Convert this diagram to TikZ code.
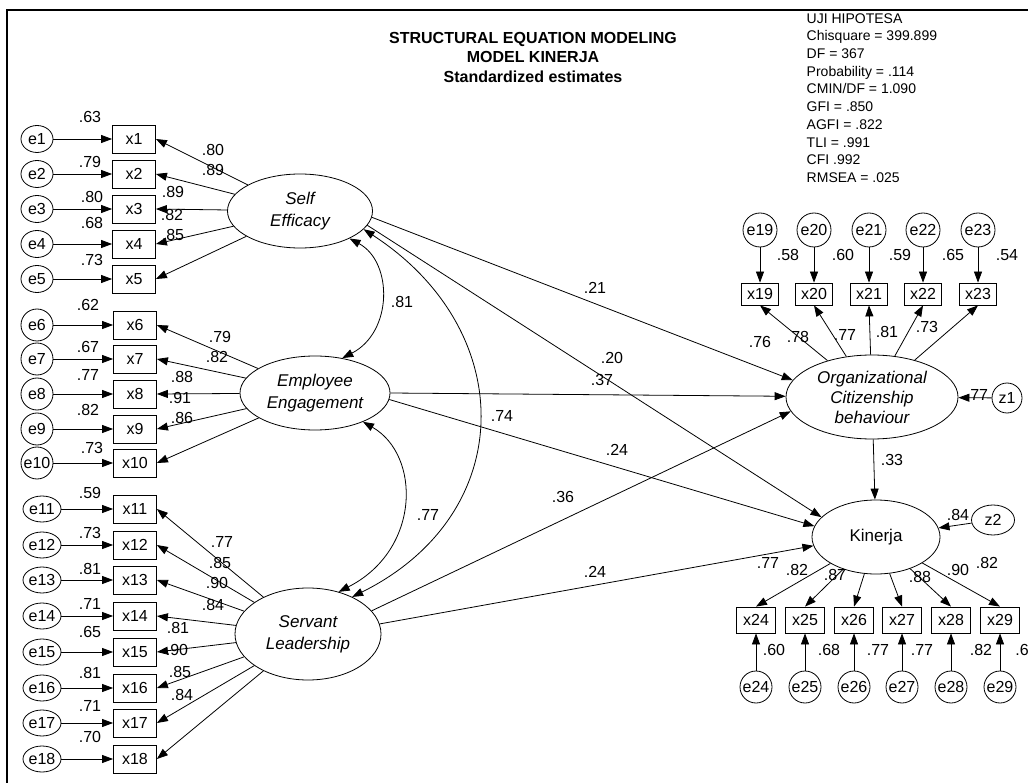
\documentclass[tikz,border=0pt]{standalone}
\usepackage{fontspec}
\setmainfont{Liberation Sans}
\usetikzlibrary{shapes.geometric,arrows.meta}

\begin{document}
\begin{tikzpicture}[x=1pt,y=-1pt,line width=0.8pt,
 every node/.style={font=\fontsize{16}{19}\selectfont},
 obs/.style={draw,rectangle,minimum width=43pt,minimum height=28pt,inner sep=0pt},
 obssm/.style={draw,rectangle,minimum width=37pt,minimum height=22pt,inner sep=0pt},
 obsmd/.style={draw,rectangle,minimum width=39pt,minimum height=26pt,inner sep=0pt},
 err/.style={draw,ellipse,inner sep=0pt,minimum width=32pt,minimum height=27pt},
 errw/.style={draw,ellipse,inner sep=0pt,minimum width=38pt,minimum height=26pt},
 errc/.style={draw,circle,inner sep=0pt,minimum size=#1},
 lat/.style={draw,ellipse,inner sep=0pt,align=center,font=\fontsize{17}{22}\selectfont\itshape},
 reg/.style={-{Triangle[length=11pt,width=8pt]}},
 cov/.style={{Triangle[length=11pt,width=8pt]}-{Triangle[length=11pt,width=8pt]}},
 coef/.style={inner sep=0pt}]
 \useasboundingbox (0,0) rectangle (1028,783);
 \draw[line width=2pt](7,783)--(7,10)--(1028,10);
 % title and fit
 \node[align=center,font=\bfseries\fontsize{16}{19.5}\selectfont] (title) at (533,57) {STRUCTURAL EQUATION MODELING\\MODEL KINERJA\\Standardized estimates};
 \node[anchor=west,align=left,font=\fontsize{14}{17.7}\selectfont] (fit) at (803,98) {UJI HIPOTESA\\Chisquare = 399.899\\DF = 367\\Probability = .114\\CMIN/DF = 1.090\\GFI = .850\\AGFI = .822\\TLI = .991\\CFI .992\\RMSEA = .025};
 % latent variables
 \node[lat,minimum width=145pt,minimum height=74pt] (SE) at (300,211) {Self\\Efficacy};
 \node[lat,minimum width=150pt,minimum height=74pt] (EE) at (315,393) {Employee\\Engagement};
 \node[lat,minimum width=146pt,minimum height=92pt] (SL) at (308,634) {Servant\\Leadership};
 \node[lat,minimum width=172pt,minimum height=84pt,font=\fontsize{17}{20}\selectfont\itshape] (OCB) at (872,397) {Organizational\\Citizenship\\behaviour};
 \node[lat,minimum width=128pt,minimum height=74pt,font=\fontsize{17}{19}\selectfont] (Kin) at (876,537) {Kinerja};
 \node[errc=30pt] (z1) at (1007,398) {z1};
 \node[draw,ellipse,inner sep=0pt,minimum width=43pt,minimum height=30pt] (z2) at (993,520) {z2};
 % self efficacy
 \node[err] (e1) at (37,139) {e1};
 \node[err] (e2) at (37,174) {e2};
 \node[err] (e3) at (37,209) {e3};
 \node[err] (e4) at (37,244) {e4};
 \node[err] (e5) at (37,279) {e5};
 \node[obs] (x1) at (134,139) {x1};
 \node[obs] (x2) at (134,174) {x2};
 \node[obs] (x3) at (134,209) {x3};
 \node[obs] (x4) at (134,244) {x4};
 \node[obs] (x5) at (134,279) {x5};
 % employee engagement
 \node[errc=32pt] (e6) at (37,325) {e6};
 \node[errc=32pt] (e7) at (37,359) {e7};
 \node[errc=32pt] (e8) at (37,394) {e8};
 \node[errc=32pt] (e9) at (37,429) {e9};
 \node[errc=32pt] (e10) at (37,463) {e10};
 \node[obs] (x6) at (135,325) {x6};
 \node[obs] (x7) at (135,359) {x7};
 \node[obs] (x8) at (135,394) {x8};
 \node[obs] (x9) at (135,429) {x9};
 \node[obs] (x10) at (135,463) {x10};
 % servant leadership
 \node[errw] (e11) at (42,509) {e11};
 \node[errw] (e12) at (42,545) {e12};
 \node[errw] (e13) at (42,580) {e13};
 \node[errw] (e14) at (42,616) {e14};
 \node[errw] (e15) at (42,652) {e15};
 \node[errw] (e16) at (42,688) {e16};
 \node[errw] (e17) at (42,723) {e17};
 \node[errw] (e18) at (42,759) {e18};
 \node[obs] (x11) at (135,509) {x11};
 \node[obs] (x12) at (135,545) {x12};
 \node[obs] (x13) at (135,580) {x13};
 \node[obs] (x14) at (135,616) {x14};
 \node[obs] (x15) at (135,652) {x15};
 \node[obs] (x16) at (135,688) {x16};
 \node[obs] (x17) at (135,723) {x17};
 \node[obs] (x18) at (135,759) {x18};
 % ocb
 \node[errc=34pt] (e19) at (760,230) {e19};
 \node[errc=34pt] (e20) at (814,230) {e20};
 \node[errc=34pt] (e21) at (869,230) {e21};
 \node[errc=34pt] (e22) at (923,230) {e22};
 \node[errc=34pt] (e23) at (978,230) {e23};
 \node[obssm] (x19) at (760,294) {x19};
 \node[obssm] (x20) at (814,294) {x20};
 \node[obssm] (x21) at (869,294) {x21};
 \node[obssm] (x22) at (923,294) {x22};
 \node[obssm] (x23) at (978,294) {x23};
 % kinerja
 \node[obsmd] (x24) at (756,620) {x24};
 \node[obsmd] (x25) at (805,620) {x25};
 \node[obsmd] (x26) at (854,620) {x26};
 \node[obsmd] (x27) at (902,620) {x27};
 \node[obsmd] (x28) at (951,620) {x28};
 \node[obsmd] (x29) at (1000,620) {x29};
 \node[errc=32pt] (e24) at (756,687) {e24};
 \node[errc=32pt] (e25) at (805,687) {e25};
 \node[errc=32pt] (e26) at (854,687) {e26};
 \node[errc=32pt] (e27) at (902,687) {e27};
 \node[errc=32pt] (e28) at (951,687) {e28};
 \node[errc=32pt] (e29) at (1000,687) {e29};
 % error paths
 \draw[reg] (e1) -- (x1);
 \draw[reg] (e2) -- (x2);
 \draw[reg] (e3) -- (x3);
 \draw[reg] (e4) -- (x4);
 \draw[reg] (e5) -- (x5);
 \draw[reg] (e6) -- (x6);
 \draw[reg] (e7) -- (x7);
 \draw[reg] (e8) -- (x8);
 \draw[reg] (e9) -- (x9);
 \draw[reg] (e10) -- (x10);
 \draw[reg] (e11) -- (x11);
 \draw[reg] (e12) -- (x12);
 \draw[reg] (e13) -- (x13);
 \draw[reg] (e14) -- (x14);
 \draw[reg] (e15) -- (x15);
 \draw[reg] (e16) -- (x16);
 \draw[reg] (e17) -- (x17);
 \draw[reg] (e18) -- (x18);
 \draw[reg] (e19) -- (x19);
 \draw[reg] (e20) -- (x20);
 \draw[reg] (e21) -- (x21);
 \draw[reg] (e22) -- (x22);
 \draw[reg] (e23) -- (x23);
 \draw[reg] (e24) -- (x24);
 \draw[reg] (e25) -- (x25);
 \draw[reg] (e26) -- (x26);
 \draw[reg] (e27) -- (x27);
 \draw[reg] (e28) -- (x28);
 \draw[reg] (e29) -- (x29);
 % loadings
 \draw[reg] (SE) -- (x1.east);
 \draw[reg] (SE) -- (x2.east);
 \draw[reg] (SE) -- (x3.east);
 \draw[reg] (SE) -- (x4.east);
 \draw[reg] (SE) -- (x5.east);
 \draw[reg] (EE) -- (x6.east);
 \draw[reg] (EE) -- (x7.east);
 \draw[reg] (EE) -- (x8.east);
 \draw[reg] (EE) -- (x9.east);
 \draw[reg] (EE) -- (x10.east);
 \draw[reg] (SL) -- (x11.east);
 \draw[reg] (SL) -- (x12.east);
 \draw[reg] (SL) -- (x13.east);
 \draw[reg] (SL) -- (x14.east);
 \draw[reg] (SL) -- (x15.east);
 \draw[reg] (SL) -- (x16.east);
 \draw[reg] (SL) -- (x17.east);
 \draw[reg] (SL) -- (x18.east);
 \draw[reg] (OCB) -- (x19.south);
 \draw[reg] (OCB) -- (x20.south);
 \draw[reg] (OCB) -- (x21.south);
 \draw[reg] (OCB) -- (x22.south);
 \draw[reg] (OCB) -- (x23.south);
 \draw[reg] (Kin) -- (x24.north);
 \draw[reg] (Kin) -- (x25.north);
 \draw[reg] (Kin) -- (x26.north);
 \draw[reg] (Kin) -- (x27.north);
 \draw[reg] (Kin) -- (x28.north);
 \draw[reg] (Kin) -- (x29.north);
 % structural paths
 \draw[reg] (SE.-5) -- (OCB.168);
 \draw[reg] (SE.-12) -- (Kin.160);
 \draw[reg] (EE.east) -- (OCB);
 \draw[reg] (EE.-5) -- (Kin.170);
 \draw[reg] (SL.20) -- (OCB.190);
 \draw[reg] (SL.8) -- (Kin.188);
 \draw[reg] (OCB) -- (Kin);
 \draw[reg] (z1) -- (OCB);
 \draw[reg] (z2) -- (Kin);
 \draw[cov] (SE.-29) .. controls (393,262) and (393,332) .. (EE.52);
 \draw[cov] (EE.-31) .. controls (421,455) and (421,550) .. (SL.54);
 \draw[cov] (SE.-16) .. controls (519,330) and (519,514) .. (SL.40);
 % squared multiple correlations
 \node[coef] (r1) at (90,117) {.63};
 \node[coef] (r2) at (90,162) {.79};
 \node[coef] (r3) at (92,197) {.80};
 \node[coef] (r4) at (92,223) {.68};
 \node[coef] (r5) at (92,260) {.73};
 \node[coef] (r6) at (88,305) {.62};
 \node[coef] (r7) at (88,347) {.67};
 \node[coef] (r8) at (88,375) {.77};
 \node[coef] (r9) at (88,410) {.82};
 \node[coef] (r10) at (92,448) {.73};
 \node[coef] (r11) at (90,493) {.59};
 \node[coef] (r12) at (90,533) {.73};
 \node[coef] (r13) at (90,569) {.81};
 \node[coef] (r14) at (90,604) {.71};
 \node[coef] (r15) at (90,632) {.65};
 \node[coef] (r16) at (90,673) {.81};
 \node[coef] (r17) at (90,706) {.71};
 \node[coef] (r18) at (90,737) {.70};
 \node[coef] (r19) at (788,255) {.58};
 \node[coef] (r20) at (843,255) {.60};
 \node[coef] (r21) at (900,255) {.59};
 \node[coef] (r22) at (953,255) {.65};
 \node[coef] (r23) at (1007,255) {.54};
 \node[coef] (r24) at (774,650) {.60};
 \node[coef] (r25) at (829,650) {.68};
 \node[coef] (r26) at (878,650) {.77};
 \node[coef] (r27) at (922,650) {.77};
 \node[coef] (r28) at (981,650) {.82};
 \node[coef,anchor=west] (r29) at (1015,650) {.6};
 % loadings
 \node[coef] (w1) at (213,150) {.80};
 \node[coef] (w2) at (213,170) {.89};
 \node[coef] (w3) at (173,192) {.89};
 \node[coef] (w4) at (172,215) {.82};
 \node[coef] (w5) at (173,235) {.85};
 \node[coef] (w6) at (220,337) {.79};
 \node[coef] (w7) at (217,357) {.82};
 \node[coef] (w8) at (182,377) {.88};
 \node[coef] (w9) at (180,398) {.91};
 \node[coef] (w10) at (182,418) {.86};
 \node[coef] (w11) at (222,542) {.77};
 \node[coef] (w12) at (220,563) {.85};
 \node[coef] (w13) at (217,583) {.90};
 \node[coef] (w14) at (213,605) {.84};
 \node[coef] (w15) at (178,628) {.81};
 \node[coef] (w16) at (177,650) {.90};
 \node[coef] (w17) at (180,672) {.85};
 \node[coef] (w18) at (182,695) {.84};
 \node[coef] (w19) at (760,342) {.76};
 \node[coef] (w20) at (798,337) {.78};
 \node[coef] (w21) at (845,335) {.77};
 \node[coef] (w22) at (887,332) {.81};
 \node[coef] (w23) at (927,327) {.73};
 \node[coef] (w24) at (768,563) {.77};
 \node[coef] (w25) at (797,570) {.82};
 \node[coef] (w26) at (835,575) {.87};
 \node[coef] (w27) at (920,577) {.88};
 \node[coef] (w28) at (958,570) {.90};
 \node[coef] (w29) at (987,563) {.82};
 % structural estimates
 \node[coef] (b1) at (595,288) {.21};
 \node[coef] (b2) at (612,358) {.20};
 \node[coef] (b3) at (602,380) {.37};
 \node[coef] (b4) at (617,450) {.24};
 \node[coef] (b5) at (563,497) {.36};
 \node[coef] (b6) at (595,572) {.24};
 \node[coef] (b7) at (892,460) {.33};
 \node[coef] (c1) at (402,302) {.81};
 \node[coef] (c2) at (428,515) {.77};
 \node[coef] (c3) at (502,416) {.74};
 \node[coef] (d1) at (977,395) {.77};
 \node[coef] (d2) at (958,515) {.84};
\end{tikzpicture}
\end{document}
